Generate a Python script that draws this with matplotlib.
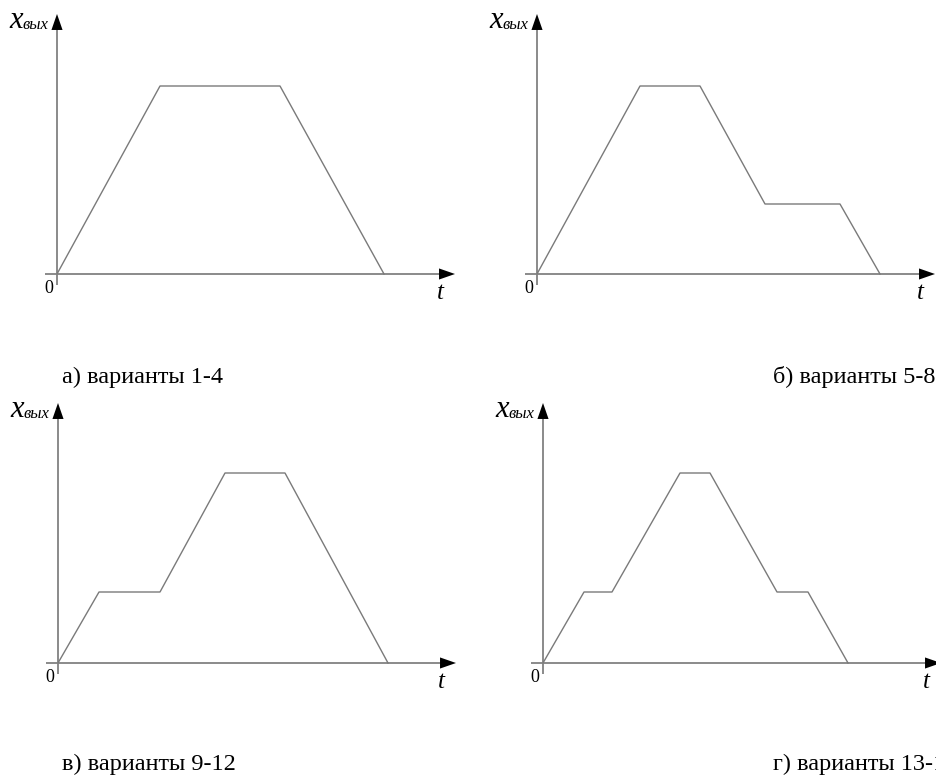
import matplotlib
matplotlib.use('Agg')
import matplotlib.pyplot as plt

# profiles (units = pixels from the origin)
t_a = [0, 103, 223, 327]
x_a = [0, 188, 188, 0]

t_b = [0, 103, 163, 228, 303, 343]
x_b = [0, 188, 188, 70, 70, 0]

t_c = [0, 41, 102, 167, 227, 330]
x_c = [0, 71, 71, 190, 190, 0]

t_d = [0, 41, 69, 137, 167, 234, 265, 305]
x_d = [0, 71, 71, 190, 190, 71, 71, 0]

captions = ['а) варианты 1-4', 'б) варианты 5-8', 'в) варианты 9-12', 'г) варианты 13-16']

W, H = 936, 777
SERIF = ['Liberation Serif', 'DejaVu Serif']

fig = plt.figure(figsize=(W / 100, H / 100), dpi=100)

# origin of each panel in image pixels (x from left, y from top)
origins = [(57, 274), (537, 274), (58, 663), (543, 663)]
profiles = [(t_a, x_a), (t_b, x_b), (t_c, x_c), (t_d, x_d)]

X0, X1 = -15, 400
Y0, Y1 = -15, 265

for (ox, oy), (tt, xx) in zip(origins, profiles):
    ax = fig.add_axes([(ox + X0) / W, (H - oy + Y0) / H, (X1 - X0) / W, (Y1 - Y0) / H])
    ax.set_xlim(X0, X1)
    ax.set_ylim(Y0, Y1)
    ax.axis('off')

    # axes lines
    ax.plot([-12, 390], [0, 0], color='#8a8a8a', lw=1.4, solid_capstyle='butt')
    ax.plot([0, 0], [-11, 252], color='#8a8a8a', lw=1.4, solid_capstyle='butt')
    arrow = dict(arrowstyle='-|>,head_length=1.15,head_width=0.4', color='black',
                 mutation_scale=10, lw=0, shrinkA=0, shrinkB=0)
    ax.annotate('', xy=(398, 0), xytext=(380, 0), arrowprops=arrow)
    ax.annotate('', xy=(0, 260), xytext=(0, 242), arrowprops=arrow)

    # the profile
    ax.plot(tt, xx, color='#7a7a7a', lw=1.0)

    # labels
    ax.text(-8, -15, '0', fontsize=13, family=SERIF, ha='center', va='center')
    ax.text(383, -19, 't', fontsize=18, family=SERIF, style='italic', ha='center', va='center')
    ax.text(-34, 246, 'x', fontsize=22, family=SERIF, style='italic', ha='right', va='baseline')
    ax.text(-35, 245, 'вых', fontsize=12, family=SERIF, style='italic', ha='left', va='baseline')

fig.text(62 / W, (H - 383) / H, captions[0], fontsize=17.5, family=SERIF, ha='left', va='baseline')
fig.text(773 / W, (H - 383) / H, captions[1], fontsize=17.5, family=SERIF, ha='left', va='baseline')
fig.text(62 / W, (H - 770) / H, captions[2], fontsize=17.5, family=SERIF, ha='left', va='baseline')
fig.text(773 / W, (H - 770) / H, captions[3], fontsize=17.5, family=SERIF, ha='left', va='baseline')

fig.savefig('out.png', dpi=100)
